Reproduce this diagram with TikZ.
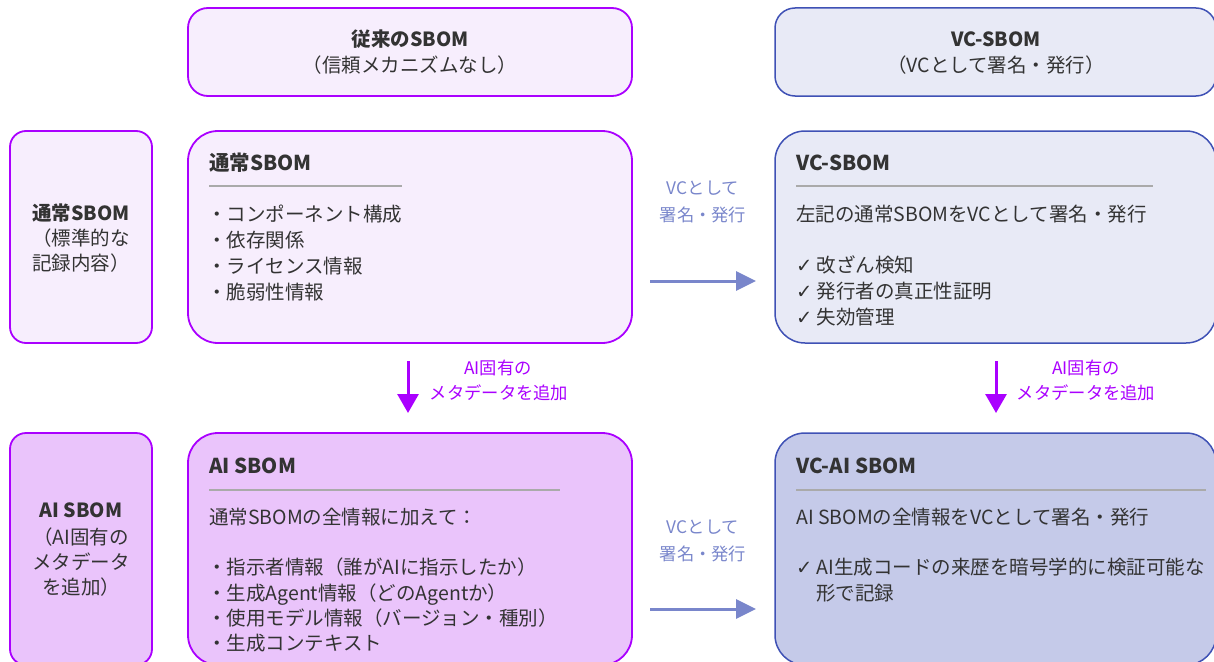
\documentclass[tikz,border=0pt]{standalone}
\usepackage{fontspec}
\setmainfont{Noto Sans CJK JP}
\newfontfamily\symfont{DejaVu Sans}
\usetikzlibrary{arrows.meta}
\definecolor{pborder}{HTML}{AA00FF}
\definecolor{pfillA}{HTML}{F7EEFD}
\definecolor{pfillB}{HTML}{EAC4FB}
\definecolor{bborder}{HTML}{3F51B5}
\definecolor{bfillA}{HTML}{E8EAF6}
\definecolor{bfillB}{HTML}{C5CAE9}
\definecolor{barrow}{HTML}{7986CB}
\definecolor{txt}{HTML}{333333}
\definecolor{sepc}{HTML}{AAAAAA}
\newcommand{\ck}{{\symfont ✓}}
\tikzset{
  pbox/.style={draw=pborder, line width=1.8pt, rounded corners=20pt, inner sep=0},
  bbox/.style={draw=bborder, line width=1.5pt, rounded corners=20pt, inner sep=0},
  body/.style={font=\fontsize{19.5}{26}\selectfont, text=txt, inner sep=0, anchor=base west},
  bodyc/.style={font=\fontsize{19.5}{26}\selectfont, text=txt, inner sep=0, anchor=base},
  ttl/.style={font=\fontsize{20.5}{26}\selectfont\bfseries, text=txt, inner sep=0, anchor=base west},
  ttlc/.style={font=\fontsize{19.5}{26}\selectfont\bfseries, text=txt, inner sep=0, anchor=base},
  sepline/.style={draw=sepc, line width=1.5pt},
  blab/.style={font=\fontsize{17.3}{24}\selectfont, text=barrow, inner sep=0, anchor=base},
  plab/.style={font=\fontsize{17.3}{24}\selectfont, text=pborder, inner sep=0, anchor=base},
  barr/.style={draw=barrow, line width=3pt, -{Triangle[length=20pt,width=19pt]}},
  parr/.style={draw=pborder, line width=3pt, -{Triangle[length=19pt,width=21pt]}},
}
\begin{document}
\begin{tikzpicture}[x=1pt,y=-1pt]
\useasboundingbox (0,0) rectangle (1214,661);
% boxes
\node[pbox, fill=pfillA, minimum width=444pt, minimum height=88pt] (h1) at (410,52) {};
\node[bbox, fill=bfillA, minimum width=441pt, minimum height=88pt] (h2) at (995.5,52) {};
\node[pbox, fill=pfillA, minimum width=142pt, minimum height=212pt, rounded corners=16pt] (l1) at (81,237) {};
\node[pbox, fill=pfillA, minimum width=444pt, minimum height=212pt, rounded corners=30pt] (b1) at (410,237) {};
\node[bbox, fill=bfillA, minimum width=441pt, minimum height=212pt, rounded corners=30pt] (b2) at (995.5,237) {};
\node[pbox, fill=pfillB, minimum width=142pt, minimum height=232pt, rounded corners=16pt] (l2) at (81,549) {};
\node[pbox, fill=pfillB, minimum width=444pt, minimum height=232pt, rounded corners=30pt] (b3) at (410,549) {};
\node[bbox, fill=bfillB, minimum width=441pt, minimum height=232pt, rounded corners=30pt] (b4) at (995.5,549) {};
% headers
\node[ttlc] (h1t) at (410,47) {従来のSBOM};
\node[bodyc] (h1s) at (410,73) {（信頼メカニズムなし）};
\node[ttlc] (h2t) at (996,47) {VC-SBOM};
\node[bodyc] (h2s) at (996,73) {（VCとして署名・発行）};
% left labels
\node[ttlc] (l1a) at (81,220) {通常SBOM};
\node[bodyc] (l1b) at (81,245) {（標準的な};
\node[bodyc] (l1c) at (81,270) {記録内容）};
\node[ttlc] (l2a) at (81,517) {AI SBOM};
\node[bodyc] (l2b) at (81,544) {（AI固有の};
\node[bodyc] (l2c) at (81,569) {メタデータ};
\node[bodyc] (l2d) at (81,594) {を追加）};
% box 1
\node[ttl] (b1t) at (209,170) {通常SBOM};
\draw[sepline] (209,186) -- (402,186);
\node[body] (b1a) at (207,221) {・コンポーネント構成};
\node[body] (b1b) at (207,247) {・依存関係};
\node[body] (b1c) at (207,273) {・ライセンス情報};
\node[body] (b1d) at (207,299) {・脆弱性情報};
% box 2
\node[ttl] (b2t) at (796,170) {VC-SBOM};
\draw[sepline] (796,186) -- (1153,186);
\node[body] (b2a) at (796,221) {左記の通常SBOMをVCとして署名・発行};
\node[body] (b2b) at (796,272) {\ck\ 改ざん検知};
\node[body] (b2c) at (796,298) {\ck\ 発行者の真正性証明};
\node[body] (b2d) at (796,324) {\ck\ 失効管理};
% box 3
\node[ttl] (b3t) at (209,473) {AI SBOM};
\draw[sepline] (209,490) -- (560,490);
\node[body] (b3a) at (209,524) {通常SBOMの全情報に加えて：};
\node[body] (b3b) at (207,574) {・指示者情報（誰がAIに指示したか）};
\node[body] (b3c) at (207,600) {・生成Agent情報（どのAgentか）};
\node[body] (b3d) at (207,625) {・使用モデル情報（バージョン・種別）};
\node[body] (b3e) at (207,650) {・生成コンテキスト};
% box 4
\node[ttl] (b4t) at (796,473) {VC-AI SBOM};
\draw[sepline] (796,490) -- (1206,490);
\node[body] (b4a) at (796,524) {AI SBOMの全情報をVCとして署名・発行};
\node[body] (b4b) at (796,574) {\ck\ AI生成コードの来歴を暗号学的に検証可能な};
\node[body] (b4c) at (816,600) {形で記録};
% arrows
\coordinate (ha1s) at (650,281); \coordinate (ha1e) at (756,281);
\coordinate (ha2s) at (650,609); \coordinate (ha2e) at (756,609);
\coordinate (va1s) at (408,361); \coordinate (va1e) at (408,413);
\coordinate (va2s) at (996,361); \coordinate (va2e) at (996,413);
\draw[barr] (ha1s) -- (ha1e);
\draw[barr] (ha2s) -- (ha2e);
\draw[parr] (va1s) -- (va1e);
\draw[parr] (va2s) -- (va2e);
\node[blab] (hl1a) at (703,194) {VCとして};
\node[blab] (hl1b) at (703,221) {署名・発行};
\node[blab] (hl2a) at (703,533) {VCとして};
\node[blab] (hl2b) at (703,560) {署名・発行};
\node[plab] (vl1a) at (498,374) {AI固有の};
\node[plab] (vl1b) at (499,399) {メタデータを追加};
\node[plab] (vl2a) at (1086,374) {AI固有の};
\node[plab] (vl2b) at (1086,399) {メタデータを追加};
\end{tikzpicture}
\end{document}
